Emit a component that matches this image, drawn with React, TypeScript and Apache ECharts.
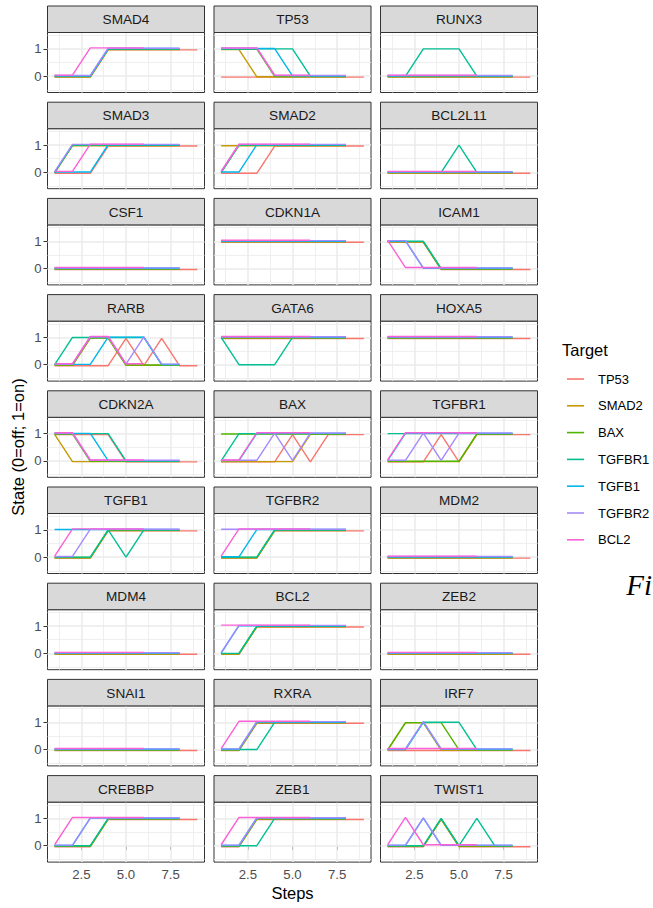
import React, { useEffect, useRef } from "react";
import * as echarts from "echarts";

// ---------- data ----------
const targets = ["TP53", "SMAD2", "BAX", "TGFBR1", "TGFB1", "TGFBR2", "BCL2"];
const targetColors = ["#F8766D", "#C49A00", "#53B400", "#00C094", "#00B6EB", "#A58AFF", "#FB61D7"];
const panelGenes = [
  "SMAD4", "TP53", "RUNX3",
  "SMAD3", "SMAD2", "BCL2L11",
  "CSF1", "CDKN1A", "ICAM1",
  "RARB", "GATA6", "HOXA5",
  "CDKN2A", "BAX", "TGFBR1",
  "TGFB1", "TGFBR2", "MDM2",
  "MDM4", "BCL2", "ZEB2",
  "SNAI1", "RXRA", "IRF7",
  "CREBBP", "ZEB1", "TWIST1",
];
const xTickLabels = [2.5, 5.0, 7.5];
const xMinorBreaks = [1.25, 3.75, 6.25, 8.75];
const yTickLabels = [0, 1];
const yMinorBreaks = [-0.5, 0.5, 1.5];

// states per panel, one row per target (TP53, SMAD2, BAX, TGFBR1, TGFB1, TGFBR2, BCL2)
const sSMAD4 = [
  [0, 0, 0, 1, 1, 1, 1, 1, 1],
  [0, 0, 0, 1, 1, 1, 1, 1],
  [0, 0, 0, 1, 1, 1, 1, 1],
  [0, 0, 0, 1, 1, 1, 1, 1],
  [0, 0, 0, 1, 1, 1, 1, 1],
  [0, 0, 0, 1, 1, 1, 1, 1],
  [0, 0, 1, 1, 1, 1],
];
const sTP53 = [
  [0, 0, 0, 0, 0, 0, 0, 0, 0],
  [1, 1, 0, 0, 0, 0, 0, 0],
  [1, 1, 1, 0, 0, 0, 0, 0],
  [1, 1, 1, 1, 1, 0, 0, 0],
  [1, 1, 1, 1, 0, 0, 0, 0],
  [1, 1, 1, 0, 0, 0, 0, 0],
  [1, 1, 1, 0, 0, 0],
];
const sRUNX3 = [
  [0, 0, 0, 0, 0, 0, 0, 0, 0],
  [0, 0, 0, 0, 0, 0, 0, 0],
  [0, 0, 0, 0, 0, 0, 0, 0],
  [0, 0, 1, 1, 1, 0, 0, 0],
  [0, 0, 0, 0, 0, 0, 0, 0],
  [0, 0, 0, 0, 0, 0, 0, 0],
  [0, 0, 0, 0, 0, 0],
];
const sSMAD3 = [
  [0, 0, 0, 1, 1, 1, 1, 1, 1],
  [0, 1, 1, 1, 1, 1, 1, 1],
  [0, 1, 1, 1, 1, 1, 1, 1],
  [0, 1, 1, 1, 1, 1, 1, 1],
  [0, 0, 0, 1, 1, 1, 1, 1],
  [0, 1, 1, 1, 1, 1, 1, 1],
  [0, 0, 1, 1, 1, 1],
];
const sSMAD2 = [
  [0, 0, 0, 1, 1, 1, 1, 1, 1],
  [1, 1, 1, 1, 1, 1, 1, 1],
  [0, 1, 1, 1, 1, 1, 1, 1],
  [0, 1, 1, 1, 1, 1, 1, 1],
  [0, 0, 1, 1, 1, 1, 1, 1],
  [0, 1, 1, 1, 1, 1, 1, 1],
  [0, 1, 1, 1, 1, 1],
];
const sBCL2L11 = [
  [0, 0, 0, 0, 0, 0, 0, 0, 0],
  [0, 0, 0, 0, 0, 0, 0, 0],
  [0, 0, 0, 0, 0, 0, 0, 0],
  [0, 0, 0, 0, 1, 0, 0, 0],
  [0, 0, 0, 0, 0, 0, 0, 0],
  [0, 0, 0, 0, 0, 0, 0, 0],
  [0, 0, 0, 0, 0, 0],
];
const sCSF1 = [
  [0, 0, 0, 0, 0, 0, 0, 0, 0],
  [0, 0, 0, 0, 0, 0, 0, 0],
  [0, 0, 0, 0, 0, 0, 0, 0],
  [0, 0, 0, 0, 0, 0, 0, 0],
  [0, 0, 0, 0, 0, 0, 0, 0],
  [0, 0, 0, 0, 0, 0, 0, 0],
  [0, 0, 0, 0, 0, 0],
];
const sCDKN1A = [
  [1, 1, 1, 1, 1, 1, 1, 1, 1],
  [1, 1, 1, 1, 1, 1, 1, 1],
  [1, 1, 1, 1, 1, 1, 1, 1],
  [1, 1, 1, 1, 1, 1, 1, 1],
  [1, 1, 1, 1, 1, 1, 1, 1],
  [1, 1, 1, 1, 1, 1, 1, 1],
  [1, 1, 1, 1, 1, 1],
];
const sICAM1 = [
  [1, 1, 1, 0, 0, 0, 0, 0, 0],
  [1, 1, 1, 0, 0, 0, 0, 0],
  [1, 1, 1, 0, 0, 0, 0, 0],
  [1, 1, 1, 0, 0, 0, 0, 0],
  [1, 1, 0, 0, 0, 0, 0, 0],
  [1, 1, 0, 0, 0, 0, 0, 0],
  [1, 0, 0, 0, 0, 0],
];
const sRARB = [
  [0, 0, 0, 0, 1, 0, 1, 0, 0],
  [0, 0, 1, 1, 0, 0, 0, 0],
  [0, 0, 1, 1, 0, 0, 0, 0],
  [0, 1, 1, 1, 1, 1, 0, 0],
  [0, 0, 0, 1, 1, 1, 0, 0],
  [0, 0, 1, 1, 0, 1, 0, 0],
  [0, 0, 1, 1, 0, 0],
];
const sGATA6 = [
  [1, 1, 1, 1, 1, 1, 1, 1, 1],
  [1, 1, 1, 1, 1, 1, 1, 1],
  [1, 1, 1, 1, 1, 1, 1, 1],
  [1, 0, 0, 0, 1, 1, 1, 1],
  [1, 1, 1, 1, 1, 1, 1, 1],
  [1, 1, 1, 1, 1, 1, 1, 1],
  [1, 1, 1, 1, 1, 1],
];
const sHOXA5 = [
  [1, 1, 1, 1, 1, 1, 1, 1, 1],
  [1, 1, 1, 1, 1, 1, 1, 1],
  [1, 1, 1, 1, 1, 1, 1, 1],
  [1, 1, 1, 1, 1, 1, 1, 1],
  [1, 1, 1, 1, 1, 1, 1, 1],
  [1, 1, 1, 1, 1, 1, 1, 1],
  [1, 1, 1, 1, 1, 1],
];
const sCDKN2A = [
  [1, 1, 1, 1, 0, 0, 0, 0, 0],
  [1, 0, 0, 0, 0, 0, 0, 0],
  [1, 1, 0, 0, 0, 0, 0, 0],
  [1, 1, 1, 1, 0, 0, 0, 0],
  [1, 1, 1, 0, 0, 0, 0, 0],
  [1, 1, 0, 0, 0, 0, 0, 0],
  [1, 1, 0, 0, 0, 0],
];
const sBAX = [
  [0, 0, 0, 0, 1, 0, 1, 1, 1],
  [0, 0, 0, 0, 0, 1, 1, 1],
  [1, 1, 1, 1, 1, 1, 1, 1],
  [0, 1, 1, 1, 1, 1, 1, 1],
  [0, 0, 1, 1, 1, 1, 1, 1],
  [0, 0, 0, 1, 0, 1, 1, 1],
  [0, 0, 1, 1, 1, 1],
];
const sTGFBR1 = [
  [0, 0, 0, 1, 0, 1, 1, 1, 1],
  [0, 0, 0, 0, 0, 1, 1, 1],
  [0, 0, 0, 0, 0, 1, 1, 1],
  [1, 1, 1, 1, 1, 1, 1, 1],
  [0, 1, 1, 1, 1, 1, 1, 1],
  [0, 0, 1, 0, 1, 1, 1, 1],
  [0, 1, 1, 1, 1, 1],
];
const sTGFB1 = [
  [0, 0, 0, 1, 1, 1, 1, 1, 1],
  [0, 0, 0, 1, 1, 1, 1, 1],
  [0, 0, 0, 1, 1, 1, 1, 1],
  [0, 0, 0, 1, 0, 1, 1, 1],
  [1, 1, 1, 1, 1, 1, 1, 1],
  [0, 0, 1, 1, 1, 1, 1, 1],
  [0, 1, 1, 1, 1, 1],
];
const sTGFBR2 = [
  [0, 0, 0, 1, 1, 1, 1, 1, 1],
  [0, 0, 0, 1, 1, 1, 1, 1],
  [0, 0, 0, 1, 1, 1, 1, 1],
  [0, 0, 0, 1, 1, 1, 1, 1],
  [0, 0, 1, 1, 1, 1, 1, 1],
  [1, 1, 1, 1, 1, 1, 1, 1],
  [0, 1, 1, 1, 1, 1],
];
const sMDM2 = [
  [0, 0, 0, 0, 0, 0, 0, 0, 0],
  [0, 0, 0, 0, 0, 0, 0, 0],
  [0, 0, 0, 0, 0, 0, 0, 0],
  [0, 0, 0, 0, 0, 0, 0, 0],
  [0, 0, 0, 0, 0, 0, 0, 0],
  [0, 0, 0, 0, 0, 0, 0, 0],
  [0, 0, 0, 0, 0, 0],
];
const sMDM4 = [
  [0, 0, 0, 0, 0, 0, 0, 0, 0],
  [0, 0, 0, 0, 0, 0, 0, 0],
  [0, 0, 0, 0, 0, 0, 0, 0],
  [0, 0, 0, 0, 0, 0, 0, 0],
  [0, 0, 0, 0, 0, 0, 0, 0],
  [0, 0, 0, 0, 0, 0, 0, 0],
  [0, 0, 0, 0, 0, 0],
];
const sBCL2 = [
  [0, 0, 1, 1, 1, 1, 1, 1, 1],
  [0, 0, 1, 1, 1, 1, 1, 1],
  [0, 0, 1, 1, 1, 1, 1, 1],
  [0, 0, 1, 1, 1, 1, 1, 1],
  [0, 1, 1, 1, 1, 1, 1, 1],
  [0, 1, 1, 1, 1, 1, 1, 1],
  [1, 1, 1, 1, 1, 1],
];
const sZEB2 = [
  [0, 0, 0, 0, 0, 0, 0, 0, 0],
  [0, 0, 0, 0, 0, 0, 0, 0],
  [0, 0, 0, 0, 0, 0, 0, 0],
  [0, 0, 0, 0, 0, 0, 0, 0],
  [0, 0, 0, 0, 0, 0, 0, 0],
  [0, 0, 0, 0, 0, 0, 0, 0],
  [0, 0, 0, 0, 0, 0],
];
const sSNAI1 = [
  [0, 0, 0, 0, 0, 0, 0, 0, 0],
  [0, 0, 0, 0, 0, 0, 0, 0],
  [0, 0, 0, 0, 0, 0, 0, 0],
  [0, 0, 0, 0, 0, 0, 0, 0],
  [0, 0, 0, 0, 0, 0, 0, 0],
  [0, 0, 0, 0, 0, 0, 0, 0],
  [0, 0, 0, 0, 0, 0],
];
const sRXRA = [
  [0, 0, 1, 1, 1, 1, 1, 1, 1],
  [0, 0, 1, 1, 1, 1, 1, 1],
  [0, 0, 1, 1, 1, 1, 1, 1],
  [0, 0, 0, 1, 1, 1, 1, 1],
  [0, 0, 1, 1, 1, 1, 1, 1],
  [0, 0, 1, 1, 1, 1, 1, 1],
  [0, 1, 1, 1, 1, 1],
];
const sIRF7 = [
  [0, 0, 0, 0, 0, 0, 0, 0, 0],
  [0, 1, 1, 0, 0, 0, 0, 0],
  [0, 1, 1, 1, 0, 0, 0, 0],
  [0, 0, 1, 1, 1, 0, 0, 0],
  [0, 0, 1, 0, 0, 0, 0, 0],
  [0, 0, 1, 0, 0, 0, 0, 0],
  [0, 0, 0, 0, 0, 0],
];
const sCREBBP = [
  [0, 0, 0, 1, 1, 1, 1, 1, 1],
  [0, 0, 0, 1, 1, 1, 1, 1],
  [0, 0, 0, 1, 1, 1, 1, 1],
  [0, 0, 0, 1, 1, 1, 1, 1],
  [0, 0, 1, 1, 1, 1, 1, 1],
  [0, 0, 1, 1, 1, 1, 1, 1],
  [0, 1, 1, 1, 1, 1],
];
const sZEB1 = [
  [0, 0, 1, 1, 1, 1, 1, 1, 1],
  [0, 0, 1, 1, 1, 1, 1, 1],
  [0, 0, 1, 1, 1, 1, 1, 1],
  [0, 0, 0, 1, 1, 1, 1, 1],
  [0, 0, 1, 1, 1, 1, 1, 1],
  [0, 0, 1, 1, 1, 1, 1, 1],
  [0, 1, 1, 1, 1, 1],
];
const sTWIST1 = [
  [0, 0, 0, 1, 0, 0, 0, 0, 0],
  [0, 0, 0, 1, 0, 0, 0, 0],
  [0, 0, 0, 1, 0, 0, 0, 0],
  [0, 0, 0, 1, 0, 1, 0, 0],
  [0, 0, 1, 0, 0, 0, 0, 0],
  [0, 0, 1, 0, 0, 0, 0, 0],
  [0, 1, 0, 0, 0, 0],
];

const panelStates = [
  sSMAD4, sTP53, sRUNX3,
  sSMAD3, sSMAD2, sBCL2L11,
  sCSF1, sCDKN1A, sICAM1,
  sRARB, sGATA6, sHOXA5,
  sCDKN2A, sBAX, sTGFBR1,
  sTGFB1, sTGFBR2, sMDM2,
  sMDM4, sBCL2, sZEB2,
  sSNAI1, sRXRA, sIRF7,
  sCREBBP, sZEB1, sTWIST1,
];

// ---------- layout / style ----------
const FONT = '"Liberation Sans", Arial, Helvetica, sans-serif';
const COL_LEFT = [47.5, 214, 380.5];
const PANEL_W = 157;
const PLOT_TOP0 = 32.5;
const ROW_PITCH = 96.2;
const PLOT_H = 60;
const STRIP_H = 26.5;
const DODGE_STEP = 0.012; // small vertical dodge per target
const GRID_COLOR = "#EBEBEB";

function buildOption() {
  const grid: any[] = [];
  const xAxis: any[] = [];
  const yAxis: any[] = [];
  const series: any[] = [];
  const graphic: any[] = [];

  panelGenes.forEach((gene, i) => {
    const r = Math.floor(i / 3);
    const c = i % 3;
    const left = COL_LEFT[c];
    const top = PLOT_TOP0 + r * ROW_PITCH;
    grid.push({
      left, top, width: PANEL_W, height: PLOT_H,
      show: true, borderColor: "#333333", borderWidth: 1, backgroundColor: "#FFFFFF",
      z: 0,
    });
    const bottomRow = r === 8;
    const leftCol = c === 0;
    xAxis.push({
      gridIndex: i, type: "value", min: 0.6, max: 9.4,
      axisLine: { show: false },
      splitLine: { show: false },
      axisTick: { show: bottomRow, customValues: xTickLabels, length: 4, lineStyle: { color: "#333333", width: 1 } },
      axisLabel: {
        show: bottomRow, customValues: xTickLabels, formatter: (v: number) => v.toFixed(1),
        color: "#4D4D4D", fontSize: 13.2, fontFamily: FONT, margin: 6,
      },
    });
    yAxis.push({
      gridIndex: i, type: "value", min: -0.6, max: 1.6,
      axisLine: { show: false },
      splitLine: { show: false },
      axisTick: { show: leftCol, customValues: yTickLabels, length: 4, lineStyle: { color: "#333333", width: 1 } },
      axisLabel: {
        show: leftCol, customValues: yTickLabels, formatter: (v: number) => String(v),
        color: "#4D4D4D", fontSize: 13.2, fontFamily: FONT, margin: 6,
      },
    });
    // panel gridlines (ggplot theme_bw look)
    const gl: any[] = [];
    xMinorBreaks.forEach((v) => gl.push({ xAxis: v, lineStyle: { width: 0.8, color: GRID_COLOR } }));
    yMinorBreaks.forEach((v) => gl.push({ yAxis: v, lineStyle: { width: 0.8, color: GRID_COLOR } }));
    xTickLabels.forEach((v) => gl.push({ xAxis: v, lineStyle: { width: 1.5, color: GRID_COLOR } }));
    yTickLabels.forEach((v) => gl.push({ yAxis: v, lineStyle: { width: 1.5, color: GRID_COLOR } }));
    series.push({
      type: "line", xAxisIndex: i, yAxisIndex: i, z: 1, silent: true,
      data: [[1, 0]], symbol: "none", lineStyle: { opacity: 0 },
      markLine: {
        silent: true, z: 1, symbol: ["none", "none"], label: { show: false },
        emphasis: { disabled: true }, animation: false,
        lineStyle: { type: "solid", color: GRID_COLOR },
        data: gl,
      },
    });
    // target lines
    const states = panelStates[i];
    targets.forEach((t, k) => {
      const off = (k - 3) * DODGE_STEP;
      series.push({
        type: "line", name: t, xAxisIndex: i, yAxisIndex: i, z: 2,
        data: states[k].map((s, j) => [j + 1, s + off]),
        symbol: "none", showSymbol: false,
        lineStyle: { color: targetColors[k], width: 1.4 },
        itemStyle: { color: targetColors[k] },
        emphasis: { disabled: true },
      });
    });
    // strip
    const stripTop = top - STRIP_H;
    graphic.push({
      type: "rect", shape: { x: left, y: stripTop, width: PANEL_W, height: STRIP_H },
      style: { fill: "#D9D9D9", stroke: "#333333", lineWidth: 1 }, silent: true, z: 10,
    });
    graphic.push({
      type: "text", x: left + PANEL_W / 2, y: stripTop + STRIP_H / 2 + 0.5, silent: true, z: 11,
      style: {
        text: gene, fill: "#1A1A1A", font: `13.6px ${FONT}`,
        align: "center", verticalAlign: "middle",
      },
    });
  });

  // axis titles
  graphic.push({
    type: "text", x: 292.5, y: 893, silent: true,
    style: { text: "Steps", fill: "#000000", font: `16.5px ${FONT}`, align: "center", verticalAlign: "middle" },
  });
  graphic.push({
    type: "text", x: 18, y: 447, rotation: Math.PI / 2, silent: true,
    style: { text: "State (0=off; 1=on)", fill: "#000000", font: `16.5px ${FONT}`, align: "center", verticalAlign: "middle" },
  });
  // legend title
  graphic.push({
    type: "text", x: 562, y: 350, silent: true,
    style: { text: "Target", fill: "#000000", font: `16.5px ${FONT}`, align: "left", verticalAlign: "middle" },
  });
  // caption fragment at the right edge
  graphic.push({
    type: "text", x: 652, y: 585, silent: true,
    style: { text: "Fi", fill: "#000000", font: `italic 29px "Liberation Serif", "DejaVu Serif", serif`, align: "right", verticalAlign: "middle" },
  });

  return {
    animation: false,
    backgroundColor: "#FFFFFF",
    grid, xAxis, yAxis, series, graphic,
    legend: {
      data: targets, orient: "vertical", left: 562, top: 367,
      icon: "rect", itemWidth: 17, itemHeight: 1.6, itemGap: 12.8,
      selectedMode: false,
      textStyle: { fontSize: 13, fontFamily: FONT, color: "#000000", lineHeight: 14, padding: [0, 0, 0, 9] },
    },
  };
}

export default function App() {
  const ref = useRef<HTMLDivElement>(null);
  useEffect(() => {
    if (!ref.current) return;
    const chart = echarts.init(ref.current, undefined, { renderer: "svg" });
    chart.setOption(buildOption() as any);
    return () => chart.dispose();
  }, []);
  return (
    <div
      ref={ref}
      style={{ position: "absolute", left: 0, top: 0, width: 653, height: 908, background: "#fff" }}
    />
  );
}
